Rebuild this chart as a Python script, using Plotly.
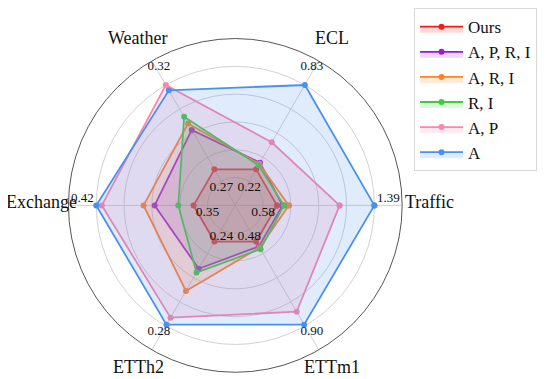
import math
import plotly.graph_objects as go

categories = ["Traffic", "ECL", "Weather", "Exchange", "ETTh2", "ETTm1"]
angles = [0, 60, 120, 180, 240, 300]
max_labels = ["1.39", "0.83", "0.32", "0.42", "0.28", "0.90"]
min_labels = ["0.58", "0.22", "0.27", "0.35", "0.24", "0.48"]

# normalized radii (axis limit 1.2)
ours = [0.30, 0.30, 0.30, 0.30, 0.30, 0.30]
apri = [0.34, 0.355, 0.627, 0.58, 0.526, 0.34]
ari = [0.385, 0.345, 0.68, 0.66, 0.71, 0.35]
ri = [0.35, 0.334, 0.736, 0.41, 0.558, 0.363]
ap = [0.75, 0.524, 1.0, 0.96, 0.932, 0.883]
a = [1.0, 1.0, 0.956, 1.0, 0.99, 0.99]

series = [
    ("Ours", ours, "#ff1a1a"),
    ("A, P, R, I", apri, "#9a1ad6"),
    ("A, R, I", ari, "#ff8225"),
    ("R, I", ri, "#3ccc3c"),
    ("A, P", ap, "#ff85ad"),
    ("A", a, "#4a90f0"),
]

FONT = "Liberation Serif"


def rgba(hexc, al):
    h = hexc.lstrip("#")
    r, g, b = int(h[0:2], 16), int(h[2:4], 16), int(h[4:6], 16)
    return f"rgba({r},{g},{b},{al})"


fig = go.Figure()
for i, (name, vals, col) in enumerate(series):
    fig.add_trace(go.Scatterpolar(
        r=vals + vals[:1], theta=angles + angles[:1],
        mode="lines+markers", name=name,
        line=dict(color=col, width=1.8),
        marker=dict(color=col, size=6),
        fill="toself", fillcolor=rgba(col, 0.17),
    ))

# outer value labels (max), inner value labels (ours)
fig.add_trace(go.Scatterpolar(
    r=[1.1] * 6, theta=angles, mode="text", text=max_labels,
    textposition="top center", showlegend=False, cliponaxis=False,
    textfont=dict(family=FONT, size=13, color="#111"), hoverinfo="skip"))
fig.add_trace(go.Scatterpolar(
    r=[0.2] * 6, theta=angles, mode="text", text=min_labels,
    textposition="bottom center", showlegend=False, cliponaxis=False,
    textfont=dict(family=FONT, size=13.5, color="#111"), hoverinfo="skip"))

W, H = 550, 379
OFF = 8.0                            # page offset of the figure in the window
cx, cy, R = 235.3 - OFF, 202.0 - OFF, 170.0

# category labels placed just outside the frame along each axis
lab_r = 194.0
for cat, ang in zip(categories, angles):
    t = math.radians(ang)
    fig.add_annotation(
        x=(cx + lab_r * math.cos(t)) / W,
        y=1 - (cy - 3 - lab_r * math.sin(t)) / H,
        xref="paper", yref="paper", text=cat, showarrow=False,
        xanchor="center", yanchor="middle",
        font=dict(family=FONT, size=18, color="#111"))

fig.update_layout(
    width=W, height=H,
    margin=dict(l=0, r=0, t=0, b=0),
    paper_bgcolor="white",
    font=dict(family=FONT, color="#111"),
    polar=dict(
        domain=dict(x=[(cx - R) / W, (cx + R) / W],
                    y=[(H - cy - R) / H, (H - cy + R) / H]),
        bgcolor="white",
        radialaxis=dict(range=[0, 1.2], tickvals=[0.2, 0.4, 0.6, 0.8, 1.0],
                        showticklabels=False, ticks="", showline=False,
                        gridcolor="#d2d2d2", gridwidth=1),
        angularaxis=dict(direction="counterclockwise", rotation=0,
                         thetaunit="degrees", tickmode="array",
                         tickvals=angles, showticklabels=False, ticks="",
                         showline=True, linecolor="#555", linewidth=1,
                         gridcolor="#d2d2d2", gridwidth=1),
    ),
    legend=dict(x=(414 - OFF) / W, y=1 - (1 - OFF) / H,
                xanchor="left", yanchor="top",
                bordercolor="#d8d8d8", borderwidth=1, bgcolor="white",
                font=dict(family=FONT, size=17, color="#111"),
                itemwidth=43),
    showlegend=True,
)

fig.write_html("out.html")
